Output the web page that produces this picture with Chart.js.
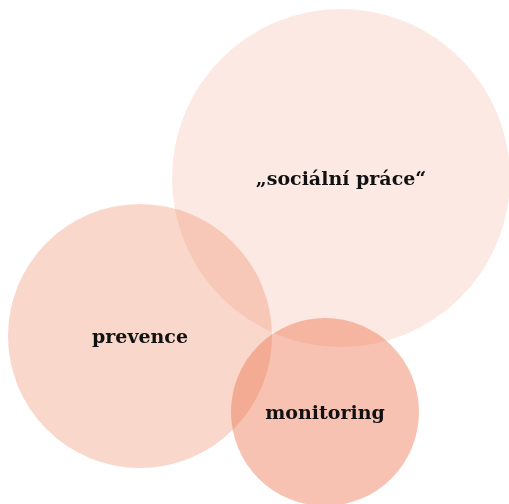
<!DOCTYPE html>
<html>
<head>
<meta charset="utf-8">
<script src="https://cdn.jsdelivr.net/npm/chart.js@4"></script>
<style>
  html, body { margin: 0; padding: 0; background: #fff; }
  #chart { display: block; }
</style>
</head>
<body>
<canvas id="chart" width="509" height="504"></canvas>
<script>
const labels = ["„sociální práce“", "prevence", "monitoring"];
const xValues = [341, 140, 325];
const yValues = [178, 336, 412];
const radii = [169, 132, 94];
const fillColors = ['rgba(235, 110, 70, 0.15)', 'rgba(235, 110, 70, 0.28)', 'rgba(235, 110, 70, 0.42)'];

const ctx = document.getElementById("chart").getContext("2d");

// write the name of each circle on its centre
const circleLabels = {
    id: 'circleLabels',
    afterDatasetsDraw(chart) {
        const c = chart.ctx;
        const meta = chart.getDatasetMeta(0);
        c.save();
        c.font = 'bold 19px "DejaVu Serif", serif';
        c.fillStyle = '#111';
        c.textAlign = 'center';
        c.textBaseline = 'middle';
        meta.data.forEach((pt, i) => {
            c.fillText(labels[i], pt.x, pt.y + 2);
        });
        c.restore();
    }
};

const config = {
    type: 'bubble',
    data: {
        datasets: [{
            data: xValues.map((x, i) => ({ x: x, y: yValues[i], r: radii[i] })),
            backgroundColor: fillColors,
            borderWidth: 0,
            hoverRadius: 0,
            clip: false
        }]
    },
    plugins: [circleLabels],
    options: {
        responsive: false,
        animation: false,
        layout: { padding: 0, autoPadding: false },
        scales: {
            x: { type: 'linear', min: 0, max: 509, display: false },
            y: { type: 'linear', min: 0, max: 504, reverse: true, display: false }
        },
        plugins: {
            legend: { display: false },
            tooltip: { enabled: false }
        }
    }
};

new Chart(ctx, config);
</script>
</body>
</html>
